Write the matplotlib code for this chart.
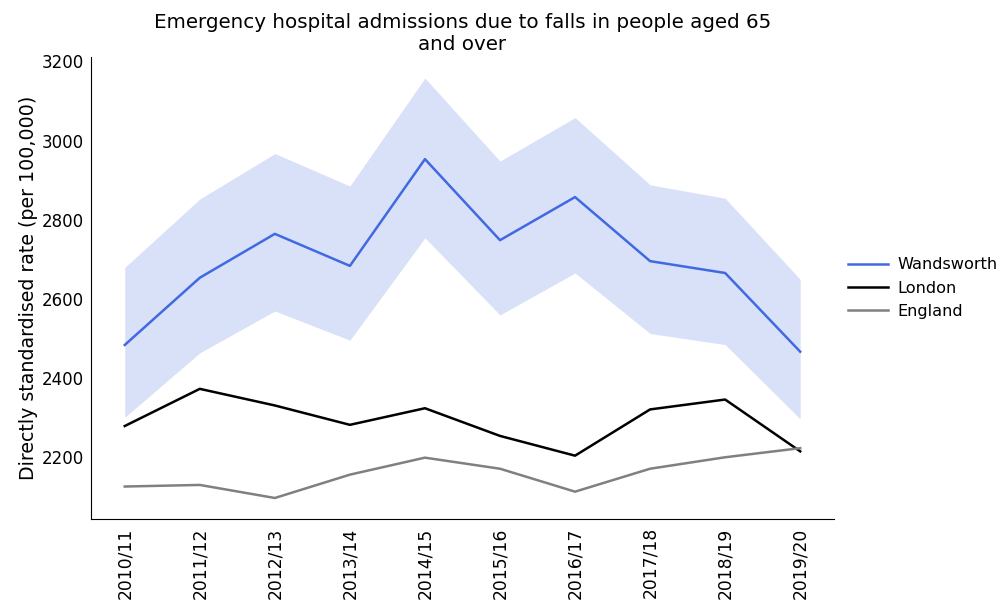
"""
Emergency hospital admissions due to falls in people aged 65 and over:
Wandsworth (with confidence interval) against London and England.
"""

# ---------- Imports ---------- #
import matplotlib
matplotlib.use("Agg")
import matplotlib.pyplot as plt

# ---------- Data ---------- #
years = ["2010/11", "2011/12", "2012/13", "2013/14", "2014/15",
         "2015/16", "2016/17", "2017/18", "2018/19", "2019/20"]

wandsworth = [2483, 2653, 2764, 2683, 2953, 2748, 2857, 2695, 2665, 2466]
wandsworth_upper = [2679, 2852, 2967, 2885, 3158, 2948, 3058, 2888, 2854, 2649]
wandsworth_lower = [2300, 2463, 2569, 2495, 2754, 2559, 2665, 2512, 2484, 2296]
london = [2278, 2372, 2330, 2281, 2323, 2253, 2203, 2320, 2345, 2214]
england = [2125, 2129, 2096, 2155, 2198, 2170, 2112, 2170, 2199, 2222]

# ---------- Plot ---------- #
plt.rcParams['font.family'] = 'DejaVu Sans'
plt.rcParams['font.size'] = 12

fig = plt.figure(figsize=(10.02, 6.07), dpi=100)
ax = fig.add_axes([0.0908, 0.145, 0.7415, 0.761])

xx = range(len(years))
ax.fill_between(xx, wandsworth_lower, wandsworth_upper, color='royalblue',
                alpha=0.2, linewidth=0)
ax.plot(xx, wandsworth, color='royalblue', linewidth=1.8, label='Wandsworth')
ax.plot(xx, london, color='black', linewidth=1.8, label='London')
ax.plot(xx, england, color='grey', linewidth=1.8, label='England')

ax.set_xticks(list(xx))
ax.set_xticklabels(years, rotation=90, fontsize=12.3)
ax.tick_params(axis='y', length=0, pad=5, labelsize=12)
ax.tick_params(axis='x', length=0, pad=6)
ax.set_yticks([2200, 2400, 2600, 2800, 3000, 3200])

ax.spines['top'].set_visible(False)
ax.spines['right'].set_visible(False)

ax.set_ylabel("Directly standardised rate (per 100,000)", fontsize=13.7, labelpad=3)
ax.set_title("Emergency hospital admissions due to falls in people aged 65\nand over",
             fontsize=14.3, pad=5)
ax.legend(loc='center left', bbox_to_anchor=(1.0, 0.5), frameon=False,
          fontsize=11.6, handlelength=2.48, handletextpad=0.55)

fig.savefig("out.png", dpi=100)
